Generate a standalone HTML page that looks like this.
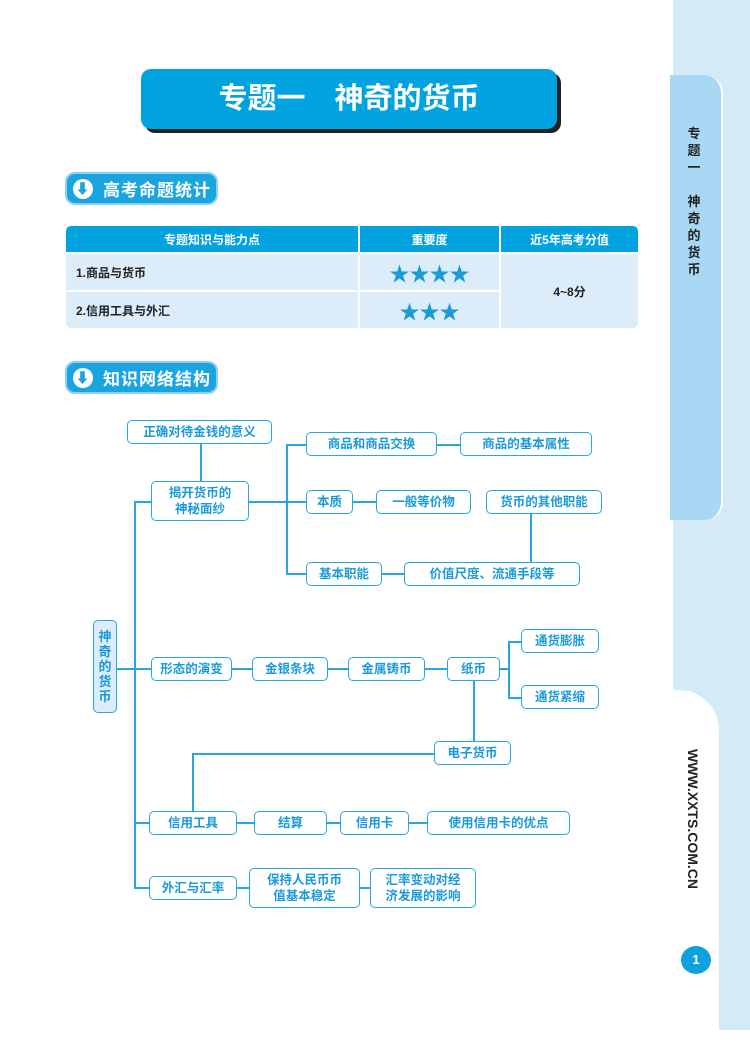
<!DOCTYPE html>
<html><head><meta charset="utf-8"><style>
*{margin:0;padding:0;box-sizing:border-box}
body{width:750px;height:1055px;position:relative;background:#fff;font-family:"Liberation Sans","Noto Sans CJK SC",sans-serif;overflow:hidden}
.a{position:absolute}
.b{position:absolute;border:1.5px solid #2aa6df;border-radius:5px;background:#fff;color:#1b9ad6;font-weight:bold;font-size:12.5px;display:flex;align-items:center;justify-content:center;text-align:center;line-height:16px}
.h{position:absolute;background:#2aa6df;height:1.5px}
.v{position:absolute;background:#2aa6df;width:1.5px}
.pill{position:absolute;left:65px;width:153px;height:33px;border-radius:10px;background:#1aa5e0;border:2px solid #8dd0f2;color:#fff;font-size:17px;font-weight:bold;display:flex;align-items:center;padding-left:36px;letter-spacing:1px}
.pill i{position:absolute;left:6px;top:5px;width:20px;height:20px;border-radius:50%;background:#fff;color:#1aa5e0;font-style:normal;font-size:14px;text-align:center;line-height:20px}
.td{position:absolute;background:#dcedf9;font-size:12px;font-weight:bold;color:#222;display:flex;align-items:center}
.th{position:absolute;background:#00a3df;color:#fff;font-size:12px;font-weight:bold;display:flex;align-items:center;justify-content:center;top:226px;height:26px}
</style></head><body>
<div class="a" style="left:673px;top:0;width:77px;height:1030px;background:#d5eaf7"></div>
<div class="a" style="left:673px;top:690px;width:46px;height:340px;background:#fff;border-top-right-radius:40px"></div>
<div class="a" style="left:719px;top:700px;width:31px;height:330px;background:#d5eaf7"></div>
<div class="a" style="left:670px;top:75px;width:53px;height:445px;background:#a9d8f5;border-radius:0 18px 18px 0;border-right:2px solid #fff"></div>
<div class="a" style="left:684px;top:125px;width:20px;font-size:13px;font-weight:bold;color:#222;line-height:17px;text-align:center">专<br>题<br>一<br><br>神<br>奇<br>的<br>货<br>币</div>
<div class="a" style="left:628px;top:806px;width:130px;text-align:center;transform:rotate(90deg);font-size:14px;font-weight:bold;color:#222">WWW.XXTS.COM.CN</div>
<div class="a" style="left:681px;top:946px;width:30px;height:28px;border-radius:50%;background:#0da2dd;color:#fff;font-weight:bold;font-size:13px;text-align:center;line-height:28px">1</div>

<div class="a" style="left:145px;top:73px;width:416px;height:60px;border-radius:10px;background:#222"></div>
<div class="a" style="left:141px;top:69px;width:416px;height:60px;border-radius:10px;background:#00a3df;color:#fff;font-size:29px;font-weight:bold;text-align:center;line-height:60px">专题一　神奇的货币</div>

<div class="pill" style="top:172px"><i>⬇</i>高考命题统计</div>
<div class="pill" style="top:361px"><i>⬇</i>知识网络结构</div>

<div class="th" style="left:66px;width:292px;border-radius:5px 0 0 0">专题知识与能力点</div>
<div class="th" style="left:360px;width:139px">重要度</div>
<div class="th" style="left:501px;width:137px;border-radius:0 5px 0 0">近5年高考分值</div>
<div class="td" style="left:66px;top:254px;width:292px;height:36px;padding-left:10px">1.商品与货币</div>
<div class="td" style="left:66px;top:292px;width:292px;height:36px;padding-left:10px;border-radius:0 0 0 5px">2.信用工具与外汇</div>
<div class="td" style="left:360px;top:254px;width:139px;height:36px;justify-content:center;color:#1a9ad6;font-size:20px">★★★★</div>
<div class="td" style="left:360px;top:292px;width:139px;height:36px;justify-content:center;color:#1a9ad6;font-size:20px">★★★</div>
<div class="td" style="left:501px;top:254px;width:137px;height:74px;justify-content:center;border-radius:0 0 5px 0">4~8分</div>

<div class="v" style="left:134px;top:501px;height:387px"></div>
<div class="h" style="left:117px;top:668px;width:34px"></div>
<div class="h" style="left:134px;top:501px;width:17px"></div>
<div class="h" style="left:134px;top:822px;width:15px"></div>
<div class="h" style="left:134px;top:887px;width:15px"></div>
<div class="v" style="left:200px;top:444px;height:37px"></div>
<div class="h" style="left:249px;top:501px;width:57px"></div>
<div class="v" style="left:286px;top:444px;height:131px"></div>
<div class="h" style="left:286px;top:444px;width:20px"></div>
<div class="h" style="left:286px;top:573px;width:20px"></div>
<div class="h" style="left:437px;top:444px;width:23px"></div>
<div class="h" style="left:353px;top:501px;width:23px"></div>
<div class="v" style="left:530px;top:514px;height:48px"></div>
<div class="h" style="left:382px;top:573px;width:22px"></div>
<div class="h" style="left:232px;top:668px;width:268px"></div>
<div class="h" style="left:500px;top:668px;width:8px"></div>
<div class="v" style="left:508px;top:641px;height:57px"></div>
<div class="h" style="left:508px;top:641px;width:13px"></div>
<div class="h" style="left:508px;top:697px;width:13px"></div>
<div class="v" style="left:473px;top:681px;height:60px"></div>
<div class="h" style="left:192px;top:753px;width:242px"></div>
<div class="v" style="left:192px;top:753px;height:58px"></div>
<div class="h" style="left:237px;top:822px;width:190px"></div>
<div class="h" style="left:237px;top:887px;width:133px"></div>

<div class="b" style="left:127px;top:420px;width:145px;height:24px">正确对待金钱的意义</div>
<div class="b" style="left:151px;top:481px;width:98px;height:40px">揭开货币的<br>神秘面纱</div>
<div class="b" style="left:306px;top:432px;width:131px;height:24px">商品和商品交换</div>
<div class="b" style="left:460px;top:432px;width:132px;height:24px">商品的基本属性</div>
<div class="b" style="left:306px;top:490px;width:47px;height:24px">本质</div>
<div class="b" style="left:376px;top:490px;width:95px;height:24px">一般等价物</div>
<div class="b" style="left:486px;top:490px;width:116px;height:24px">货币的其他职能</div>
<div class="b" style="left:306px;top:562px;width:76px;height:24px">基本职能</div>
<div class="b" style="left:404px;top:562px;width:176px;height:24px">价值尺度、流通手段等</div>
<div class="b" style="left:93px;top:620px;width:24px;height:93px;background:#dcedf9;line-height:15px;font-size:13px">神<br>奇<br>的<br>货<br>币</div>
<div class="b" style="left:151px;top:657px;width:81px;height:24px">形态的演变</div>
<div class="b" style="left:252px;top:657px;width:76px;height:24px">金银条块</div>
<div class="b" style="left:348px;top:657px;width:77px;height:24px">金属铸币</div>
<div class="b" style="left:447px;top:657px;width:53px;height:24px">纸币</div>
<div class="b" style="left:521px;top:629px;width:78px;height:24px">通货膨胀</div>
<div class="b" style="left:521px;top:685px;width:78px;height:24px">通货紧缩</div>
<div class="b" style="left:434px;top:741px;width:77px;height:24px">电子货币</div>
<div class="b" style="left:149px;top:811px;width:88px;height:24px">信用工具</div>
<div class="b" style="left:254px;top:811px;width:73px;height:24px">结算</div>
<div class="b" style="left:340px;top:811px;width:69px;height:24px">信用卡</div>
<div class="b" style="left:427px;top:811px;width:143px;height:24px">使用信用卡的优点</div>
<div class="b" style="left:149px;top:876px;width:88px;height:24px">外汇与汇率</div>
<div class="b" style="left:249px;top:868px;width:111px;height:40px">保持人民币币<br>值基本稳定</div>
<div class="b" style="left:370px;top:868px;width:106px;height:40px">汇率变动对经<br>济发展的影响</div>
</body></html>
